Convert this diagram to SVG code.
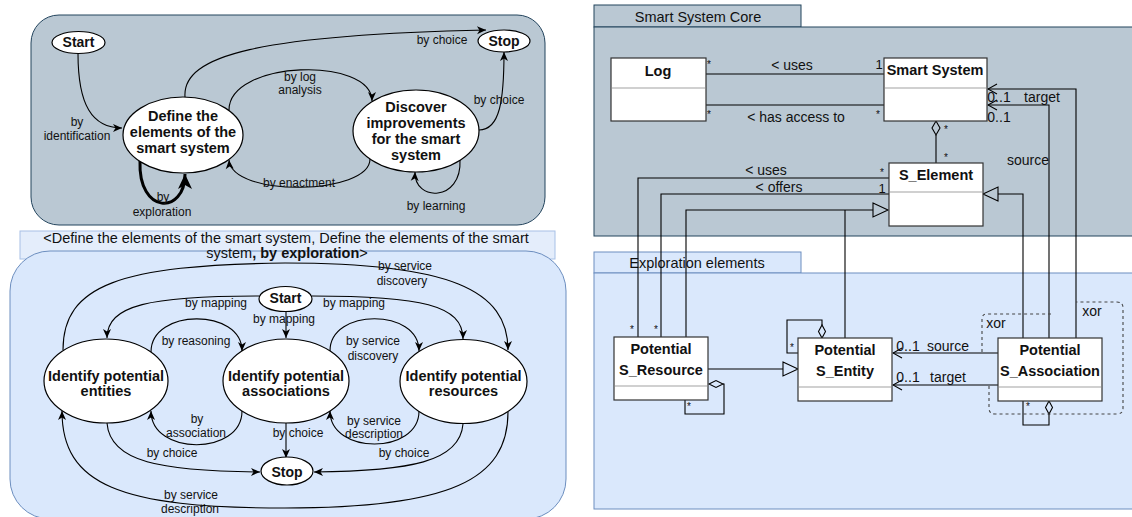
<svg xmlns="http://www.w3.org/2000/svg" width="1132" height="517" viewBox="0 0 1132 517">
<defs>
<style>
text{font-family:'Liberation Sans',Arial,Helvetica,sans-serif;fill:#111;text-anchor:middle;dominant-baseline:central}
.e{font-size:12px}
.n{font-size:14.5px;font-weight:bold}
.s{font-size:14px;font-weight:bold}
.u{font-size:14px}
.m{font-size:10px}
.t{font-size:14.5px}
.ell{fill:#fff;stroke:#000;stroke-width:1.2}
.ln{fill:none;stroke:#000;stroke-width:1.1}
.cls{fill:#fff;stroke:#333;stroke-width:1.2}
.div{stroke:#d0d0d0;stroke-width:2}
.dia{fill:none;stroke:#000;stroke-width:1.1}
.dash{fill:none;stroke:#444;stroke-width:1.1;stroke-dasharray:3 3}
</style>
<marker id="arr" viewBox="-10 -5 10 10" refX="0" refY="0" markerWidth="10" markerHeight="10" markerUnits="userSpaceOnUse" orient="auto">
<path d="M0,0 L-9,-4 L-6.5,0 L-9,4 Z" fill="#000"/>
</marker>
<marker id="arrB" viewBox="-16 -8 16 16" refX="0" refY="0" markerWidth="16" markerHeight="16" markerUnits="userSpaceOnUse" orient="auto">
<path d="M0,0 L-15,-7 L-11,0 L-15,7 Z" fill="#000"/>
</marker>
<marker id="open" viewBox="-10 -6 11 12" refX="0" refY="0" markerWidth="11" markerHeight="12" markerUnits="userSpaceOnUse" orient="auto">
<path d="M-9,-5 L0,0 L-9,5" fill="none" stroke="#000" stroke-width="1.1"/>
</marker>
<marker id="tri" viewBox="-1 -8 18 16" refX="0" refY="0" markerWidth="18" markerHeight="16" markerUnits="userSpaceOnUse" orient="auto">
<path d="M0,-7 L15,0 L0,7 Z" fill="none" stroke="#000" stroke-width="1.1"/>
</marker>
</defs>

<!-- panels -->
<g id="panels">
<rect x="31" y="15" width="514" height="210" rx="28" fill="#bac8d3" stroke="#23445d" stroke-width="1"/>
<rect x="20" y="231" width="535" height="28" fill="#e4edfb" stroke="#a7c0e6" stroke-width="1"/>
<rect x="10" y="251" width="556" height="268" rx="40" fill="#dae8fc" stroke="#6c8ebf" stroke-width="1"/>
<rect x="594" y="5" width="207" height="22" fill="#bac8d3" stroke="#23445d" stroke-width="1"/>
<rect x="594" y="27" width="545" height="209" fill="#bac8d3" stroke="#23445d" stroke-width="1"/>
<text class="t" x="698" y="17">Smart System Core</text>
<rect x="594" y="252" width="207" height="21" fill="#dae8fc" stroke="#6c8ebf" stroke-width="1"/>
<rect x="594" y="273" width="545" height="236" fill="#dae8fc" stroke="#6c8ebf" stroke-width="1"/>
<text class="t" x="697" y="263">Exploration elements</text>
</g>

<g id="transition-label">
<text class="t" x="286" y="238">&lt;Define the elements of the smart system, Define the elements of the smart</text>
<text class="t" x="287" y="253"><tspan>system</tspan><tspan font-weight="bold">, by exploration</tspan><tspan>&gt;</tspan></text>
</g>

<g id="connectors">
<!-- top map -->
<path class="ln" d="M78 53.5 C78 105 92 128 122 128" marker-end="url(#arr)"/>
<path class="ln" d="M185 97 C182 55 260 35 486 30" marker-end="url(#arr)"/>
<path class="ln" d="M229 110 C229 60 372 56 372 101" marker-end="url(#arr)"/>
<path class="ln" d="M370 159 C370 195 232 198 229 160" marker-end="url(#arr)"/>
<path class="ln" d="M479 130 C500 130 504 100 504 52" marker-end="url(#arr)"/>
<path class="ln" d="M460 160 C462 202 414 202 415 172" marker-end="url(#arr)"/>
<path fill="none" stroke="#000" stroke-width="3" d="M140 161 C138 215 185 215 185 174" marker-end="url(#arrB)"/>
<text class="e" x="77" y="122">by</text>
<text class="e" x="77" y="136">identification</text>
<text class="e" x="442" y="40">by choice</text>
<text class="e" x="300" y="77">by log</text>
<text class="e" x="300" y="90">analysis</text>
<text class="e" x="299" y="183">by enactment</text>
<text class="e" x="499" y="100">by choice</text>
<text class="e" x="436" y="206">by learning</text>
<text class="e" x="163" y="197">by</text>
<text class="e" x="162" y="212">exploration</text>

<!-- bottom map -->
<path class="ln" d="M259 296 C150 296 107 305 107 338" marker-end="url(#arr)"/>
<path class="ln" d="M286 311.5 L286 338" marker-end="url(#arr)"/>
<path class="ln" d="M312 296 C421 296 463 305 463 339" marker-end="url(#arr)"/>
<path class="ln" d="M151 352 C151 308 242 308 242 351" marker-end="url(#arr)"/>
<path class="ln" d="M242 411 C242 456 151 456 151 411" marker-end="url(#arr)"/>
<path class="ln" d="M330 351 C330 308 419 308 419 351" marker-end="url(#arr)"/>
<path class="ln" d="M419 411 C419 455 330 455 330 411" marker-end="url(#arr)"/>
<path class="ln" d="M286 423 L286 458" marker-end="url(#arr)"/>
<path class="ln" d="M107 423 C110 462 160 471 260 472" marker-end="url(#arr)"/>
<path class="ln" d="M463 424 C460 462 410 471 314 472" marker-end="url(#arr)"/>
<path class="ln" d="M63 350 C63 285 120 265 285 263 C450 263 508 290 508 350" marker-end="url(#arr)"/>
<path class="ln" d="M508 412 C508 480 450 508 285 508 C120 508 62 485 62 411" marker-end="url(#arr)"/>
<text class="e" x="216" y="303">by mapping</text>
<text class="e" x="284" y="319">by mapping</text>
<text class="e" x="354" y="303">by mapping</text>
<text class="e" x="196" y="341">by reasoning</text>
<text class="e" x="197" y="419">by</text>
<text class="e" x="196" y="433">association</text>
<text class="e" x="373" y="341">by service</text>
<text class="e" x="373" y="356">discovery</text>
<text class="e" x="374" y="421">by service</text>
<text class="e" x="374" y="434">description</text>
<text class="e" x="298" y="433">by choice</text>
<text class="e" x="172" y="453">by choice</text>
<text class="e" x="404" y="453">by choice</text>
<text class="e" x="405" y="266">by service</text>
<text class="e" x="402" y="281">discovery</text>
<text class="e" x="191" y="495">by service</text>
<text class="e" x="190" y="509">description</text>

<!-- class diagram -->
<path class="ln" d="M706 74 L884 74"/>
<path class="ln" d="M706 105 L884 105"/>
<path class="ln" d="M936 135 L936 163"/>
<polygon class="dia" points="936,121 940,128 936,135 932,128"/>
<path class="ln" d="M889 178 L638 178 L638 337"/>
<path class="ln" d="M889 194 L661 194 L661 337"/>
<path class="ln" d="M686 337 L686 210 L873 210" marker-end="url(#tri)"/>
<path class="ln" d="M845 338 L845 210"/>
<path class="ln" d="M1023 338 L1023 194 L998 194" marker-end="url(#tri)"/>
<path class="ln" d="M1049 338 L1049 105 L988 105" marker-end="url(#open)"/>
<path class="ln" d="M1076 338 L1076 89 L988 89" marker-end="url(#open)"/>
<path class="ln" d="M998 353 L893 353" marker-end="url(#open)"/>
<path class="ln" d="M998 385 L893 385" marker-end="url(#open)"/>
<path class="ln" d="M708 369 L783 369" marker-end="url(#tri)"/>
<polygon class="dia" points="709,384 716,380.5 723,384 716,387.5"/>
<path class="ln" d="M723 384 L724 384 L724 414 L685 414 L685 400"/>
<polygon class="dia" points="822,338 825.5,331.5 822,325 818.5,331.5"/>
<path class="ln" d="M822 325 L822 320 L787 320 L787 353 L798 353"/>
<polygon class="dia" points="1049,401 1052.5,407.5 1049,414 1045.5,407.5"/>
<path class="ln" d="M1049 414 L1049 425 L1023 425 L1023 401"/>
<path class="dash" d="M982 352 L982 319 Q982 314 987 314 L1051 314"/>
<path class="dash" d="M989 386 L989 408 Q989 414 995 414 L1117 414 Q1123 414 1123 408 L1123 308 Q1123 302 1117 302 L1076 302"/>
<text class="m" x="709" y="64">*</text>
<text class="u" x="792" y="65">&lt; uses</text>
<text class="u" x="879" y="64" style="font-size:13px">1</text>
<text class="m" x="709" y="114">*</text>
<text class="u" x="796" y="117">&lt; has access to</text>
<text class="m" x="878" y="114">*</text>
<text class="m" x="946" y="129">*</text>
<text class="m" x="946" y="157">*</text>
<text class="m" x="882" y="172">*</text>
<text class="u" x="766" y="170">&lt; uses</text>
<text class="u" x="882" y="188" style="font-size:13px">1</text>
<text class="u" x="779" y="187">&lt; offers</text>
<text class="m" x="632" y="329">*</text>
<text class="m" x="656" y="329">*</text>
<text class="u" x="999" y="97">0..1</text>
<text class="u" x="1042" y="97">target</text>
<text class="u" x="999" y="117">0..1</text>
<text class="u" x="1028" y="160">source</text>
<text class="u" x="908" y="346">0..1</text>
<text class="u" x="948" y="346">source</text>
<text class="u" x="908" y="377">0..1</text>
<text class="u" x="948" y="377">target</text>
<text class="m" x="689" y="406">*</text>
<text class="m" x="792" y="347">*</text>
<text class="m" x="1028" y="406">*</text>
<text class="u" x="996" y="323">xor</text>
<text class="u" x="1092" y="311">xor</text>
</g>

<!-- top map nodes -->
<g id="start-top"><ellipse class="ell" cx="78.5" cy="42.5" rx="26.5" ry="11"/><text class="s" x="78.5" y="42">Start</text></g>
<g id="stop-top"><ellipse class="ell" cx="504" cy="41" rx="26" ry="11"/><text class="s" x="504" y="41">Stop</text></g>
<g id="define"><ellipse class="ell" cx="183" cy="135" rx="60" ry="38"/>
<text class="n" x="183" y="116">Define the</text><text class="n" x="183" y="132">elements of the</text><text class="n" x="183" y="148">smart system</text></g>
<g id="discover"><ellipse class="ell" cx="416" cy="131" rx="63" ry="41"/>
<text class="n" x="416" y="107">Discover</text><text class="n" x="416" y="123">improvements</text><text class="n" x="416" y="139">for the smart</text><text class="n" x="416" y="155">system</text></g>

<!-- bottom map nodes -->
<g id="start-bottom"><ellipse class="ell" cx="285.5" cy="299" rx="26.5" ry="12.5"/><text class="s" x="285.5" y="297.5">Start</text></g>
<g id="entities"><ellipse class="ell" cx="106" cy="381" rx="62" ry="42"/><text class="n" x="106" y="376">Identify potential</text><text class="n" x="106" y="391">entities</text></g>
<g id="associations"><ellipse class="ell" cx="286" cy="381" rx="63" ry="42"/><text class="n" x="286" y="376">Identify potential</text><text class="n" x="286" y="391">associations</text></g>
<g id="resources"><ellipse class="ell" cx="463.5" cy="381.5" rx="63.5" ry="42"/><text class="n" x="463.5" y="376">Identify potential</text><text class="n" x="463.5" y="391">resources</text></g>
<g id="stop-bottom"><ellipse class="ell" cx="287" cy="471" rx="26" ry="14"/><text class="s" x="287" y="472">Stop</text></g>

<!-- classes -->
<g id="log"><rect class="cls" x="611" y="58" width="95" height="63"/><line class="div" x1="612" y1="88" x2="705" y2="88"/><text class="n" x="658" y="71">Log</text></g>
<g id="smart-system"><rect class="cls" x="884" y="58" width="103" height="63"/><line class="div" x1="885" y1="88" x2="986" y2="88"/><text class="n" x="935" y="70">Smart System</text></g>
<g id="s-element"><rect class="cls" x="889" y="163" width="94" height="63"/><line class="div" x1="890" y1="192" x2="982" y2="192"/><text class="n" x="936" y="175">S_Element</text></g>
<g id="p-resource"><rect class="cls" x="614" y="337" width="94" height="63"/><line class="div" x1="615" y1="386" x2="707" y2="386"/><text class="n" x="661" y="349">Potential</text><text class="n" x="661" y="370">S_Resource</text></g>
<g id="p-entity"><rect class="cls" x="798" y="338" width="94" height="63"/><line class="div" x1="799" y1="387" x2="891" y2="387"/><text class="n" x="845" y="350">Potential</text><text class="n" x="845" y="371">S_Entity</text></g>
<g id="p-association"><rect class="cls" x="998" y="338" width="104" height="63"/><line class="div" x1="999" y1="387" x2="1101" y2="387"/><text class="n" x="1050" y="350">Potential</text><text class="n" x="1050" y="371">S_Association</text></g>
</svg>
